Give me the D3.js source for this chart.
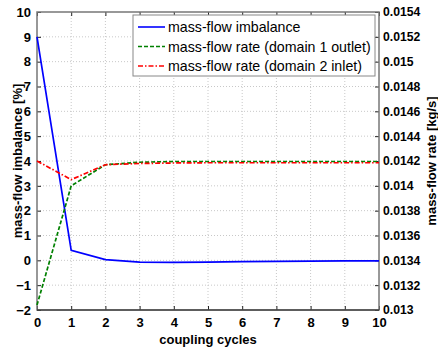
<!DOCTYPE html>
<html>
<head>
<meta charset="utf-8">
<script src="https://cdn.jsdelivr.net/npm/d3@7"></script>
<style>
  body { margin: 0; background: #fff; }
  text { font-family: "Liberation Sans", Arial, sans-serif; }
</style>
</head>
<body>
<div id="chart"></div>
<script>
// coupling cycles
const cycles = [0, 1, 2, 3, 4, 5, 6, 7, 8, 9, 10];
// mass-flow imbalance [%] (left axis)
const imbalance = [9.0, 0.4, 0.03, -0.07, -0.08, -0.07, -0.05, -0.04, -0.03, -0.02, -0.02];
// mass-flow rate [kg/s] (right axis)
const rateOutlet = [0.01304, 0.0140, 0.01417, 0.01419, 0.014196, 0.014196, 0.014196, 0.014196, 0.014196, 0.014196, 0.014196];
const rateInlet = [0.0142, 0.01405, 0.01417, 0.01418, 0.014184, 0.014186, 0.014186, 0.014186, 0.014186, 0.014186, 0.014186];

const leftTicks = [-2, -1, 0, 1, 2, 3, 4, 5, 6, 7, 8, 9, 10];
const rightTicks = [0.013, 0.0132, 0.0134, 0.0136, 0.0138, 0.014, 0.0142, 0.0144, 0.0146, 0.0148, 0.015, 0.0152, 0.0154];

const width = 438, height = 350;
const margin = { top: 12, right: 59, bottom: 40, left: 37 };
const w = width - margin.left - margin.right;
const h = height - margin.top - margin.bottom;

const svg = d3.select('#chart').append('svg')
  .attr('width', width)
  .attr('height', height);

const g = svg.append('g').attr('transform', `translate(${margin.left},${margin.top})`);

const x = d3.scaleLinear().domain([0, 10]).range([0, w]);
const yL = d3.scaleLinear().domain([-2, 10]).range([h, 0]);
const yR = d3.scaleLinear().domain([0.013, 0.0154]).range([h, 0]);

// grid
g.append('g')
  .selectAll('line')
  .data(cycles.slice(1, -1))
  .join('line')
    .attr('x1', d => x(d)).attr('x2', d => x(d))
    .attr('y1', 0).attr('y2', h)
    .attr('stroke', '#c8c8c8')
    .attr('stroke-dasharray', '1,2');
g.append('g')
  .selectAll('line')
  .data(leftTicks.slice(1, -1))
  .join('line')
    .attr('x1', 0).attr('x2', w)
    .attr('y1', d => yL(d)).attr('y2', d => yL(d))
    .attr('stroke', '#c8c8c8')
    .attr('stroke-dasharray', '1,2');

// axes
const styleAxis = (sel, size = 13) => {
  sel.select('.domain').remove();
  sel.selectAll('.tick line').attr('stroke', '#222');
  sel.selectAll('.tick text')
    .attr('fill', '#000')
    .attr('font-size', size + 'px')
    .attr('font-weight', 'bold');
};

g.append('g')
  .attr('transform', `translate(0,${h})`)
  .call(d3.axisBottom(x).tickValues(cycles).tickFormat(d3.format('d')).tickSizeInner(-4).tickSizeOuter(0).tickPadding(8))
  .call(styleAxis);

g.append('g')
  .call(d3.axisTop(x).tickValues(cycles).tickFormat('').tickSizeInner(-4).tickSizeOuter(0))
  .call(styleAxis);

g.append('g')
  .call(d3.axisLeft(yL).tickValues(leftTicks).tickFormat(d3.format('d')).tickSizeInner(-4).tickSizeOuter(0).tickPadding(6))
  .call(styleAxis);

g.append('g')
  .attr('transform', `translate(${w},0)`)
  .call(d3.axisRight(yR).tickValues(rightTicks).tickFormat(d => String(+d.toFixed(4))).tickSizeInner(-4).tickSizeOuter(0).tickPadding(4))
  .call(sel => styleAxis(sel, 12.2));

// frame
g.append('rect')
  .attr('width', w).attr('height', h)
  .attr('fill', 'none')
  .attr('stroke', '#777')
  .attr('stroke-width', 1.5);
g.append('line')
  .attr('x1', 0).attr('x2', w).attr('y1', h).attr('y2', h)
  .attr('stroke', '#222').attr('stroke-width', 1.2);

// lines
const lineL = d3.line().x((d, i) => x(cycles[i])).y(d => yL(d));
const lineR = d3.line().x((d, i) => x(cycles[i])).y(d => yR(d));

const series = [
  { label: 'mass-flow imbalance', values: imbalance, gen: lineL, color: '#0000ff', dash: null },
  { label: 'mass-flow rate (domain 1 outlet)', values: rateOutlet, gen: lineR, color: '#008000', dash: '4,2' },
  { label: 'mass-flow rate (domain 2 inlet)', values: rateInlet, gen: lineR, color: '#ff0000', dash: '5,2,1.5,2' },
];

series.forEach(s => {
  g.append('path')
    .datum(s.values)
    .attr('fill', 'none')
    .attr('stroke', s.color)
    .attr('stroke-width', 1.7)
    .attr('stroke-dasharray', s.dash)
    .attr('d', s.gen);
});

// legend
const legend = g.append('g').attr('transform', `translate(${133 - margin.left},${15 - margin.top})`);
legend.append('rect')
  .attr('width', 242).attr('height', 61)
  .attr('fill', '#fff')
  .attr('stroke', '#888');
series.forEach((s, i) => {
  const yy = 12 + i * 19.5;
  legend.append('line')
    .attr('x1', 5).attr('x2', 32).attr('y1', yy).attr('y2', yy)
    .attr('stroke', s.color)
    .attr('stroke-width', 1.6)
    .attr('stroke-dasharray', s.dash);
  legend.append('text')
    .attr('x', 35).attr('y', yy).attr('dy', '0.36em')
    .attr('font-size', '14.2px')
    .attr('fill', '#000')
    .text(s.label);
});

// axis titles
svg.append('text')
  .attr('x', margin.left + w / 2).attr('y', 344)
  .attr('text-anchor', 'middle')
  .attr('font-size', '13px').attr('font-weight', 'bold')
  .text('coupling cycles');

svg.append('text')
  .attr('transform', `translate(22,${margin.top + h / 2}) rotate(-90)`)
  .attr('text-anchor', 'middle')
  .attr('font-size', '13px').attr('font-weight', 'bold')
  .text('mass-flow imbalance [%]');

svg.append('text')
  .attr('transform', `translate(436,${margin.top + h / 2}) rotate(-90)`)
  .attr('text-anchor', 'middle')
  .attr('font-size', '13px').attr('font-weight', 'bold')
  .text('mass-flow rate [kg/s]');
</script>
</body>
</html>
